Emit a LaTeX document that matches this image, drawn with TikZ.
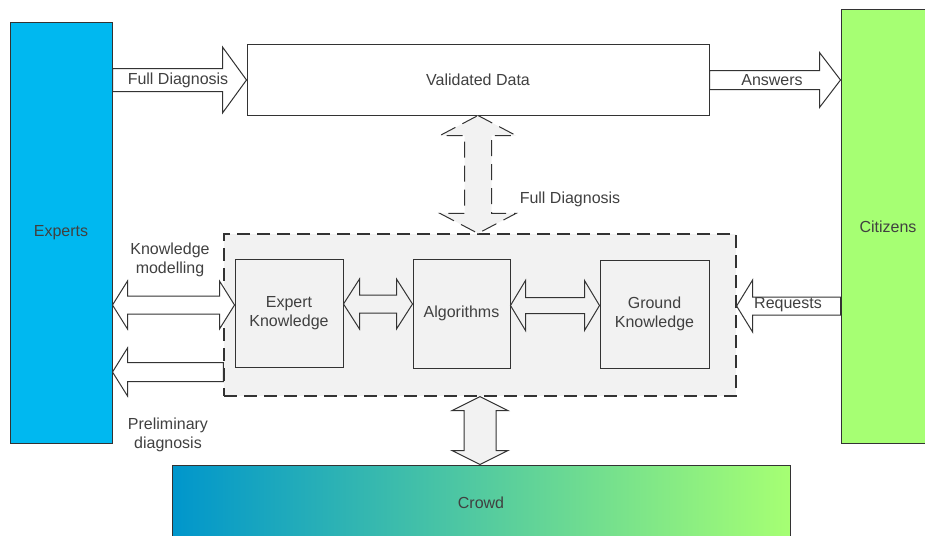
\documentclass[tikz,border=0pt]{standalone}
\usepackage{fontspec}
\setmainfont{Liberation Sans}
\usetikzlibrary{calc}
\definecolor{expertblue}{HTML}{00B8F0}
\definecolor{citizengreen}{HTML}{A6FF73}
\definecolor{crowdblue}{HTML}{0096CC}
\definecolor{panelgray}{HTML}{F2F2F2}
\definecolor{textgray}{HTML}{404040}
\definecolor{linegray}{HTML}{333333}

\tikzset{
  box/.style={draw=linegray, line width=1pt, inner sep=0pt, align=center,
    text=textgray, font=\fontsize{16}{19}\selectfont},
  lbl/.style={text=textgray, align=center, inner sep=0pt,
    font=\fontsize{16}{19}\selectfont},
  blk/.style={draw=linegray, line width=1pt, line join=miter},
  single block/.style n args={3}{to path={let \p1=(\tikztostart), \p2=(\tikztotarget),
    \n1={atan2(\y2-\y1,\x2-\x1)} in
    ($(\p1)+(\n1+90:#1)$) -- ($(\p2)+(\n1:-#3)+(\n1+90:#1)$)
    -- ($(\p2)+(\n1:-#3)+(\n1+90:#2)$) -- (\p2)
    -- ($(\p2)+(\n1:-#3)+(\n1-90:#2)$) -- ($(\p2)+(\n1:-#3)+(\n1-90:#1)$)
    -- ($(\p1)+(\n1-90:#1)$) -- cycle}},
  double block/.style n args={3}{to path={let \p1=(\tikztostart), \p2=(\tikztotarget),
    \n1={atan2(\y2-\y1,\x2-\x1)} in
    (\p1) -- ($(\p1)+(\n1:#3)+(\n1+90:#2)$) -- ($(\p1)+(\n1:#3)+(\n1+90:#1)$)
    -- ($(\p2)+(\n1:-#3)+(\n1+90:#1)$) -- ($(\p2)+(\n1:-#3)+(\n1+90:#2)$) -- (\p2)
    -- ($(\p2)+(\n1:-#3)+(\n1-90:#2)$) -- ($(\p2)+(\n1:-#3)+(\n1-90:#1)$)
    -- ($(\p1)+(\n1:#3)+(\n1-90:#1)$) -- ($(\p1)+(\n1:#3)+(\n1-90:#2)$) -- cycle}},
}

\begin{document}
\begin{tikzpicture}[x=1pt, y=-1pt]
      \useasboundingbox (0,0) rectangle (925,535);
      % outer actors
      \node[box, fill=expertblue, minimum width=102, minimum height=420] (experts) at (61,233) {Experts};
      \node[box, fill=citizengreen, minimum width=94, minimum height=433] (citizens) at (888,226.5) {Citizens};
      \node[box, fill=white, minimum width=462, minimum height=70] (valid) at (478,80) {Validated Data};
      \node[box, left color=crowdblue, right color=citizengreen, minimum width=618, minimum height=75] (crowd) at (481,502.5) {Crowd};
      % core panel
      \node[draw=linegray, fill=panelgray, line width=1.2pt, dash pattern=on 13pt off 7pt,
            minimum width=512, minimum height=162, inner sep=0pt] (core) at (480,315) {};
      \node[box, fill=panelgray, minimum width=108, minimum height=108] (ek) at (289,313) {Expert\\Knowledge};
      \node[box, fill=panelgray, minimum width=97, minimum height=109] (alg) at (461.5,313.5) {Algorithms};
      \node[box, fill=panelgray, minimum width=109, minimum height=108] (gk) at (654.5,314) {Ground\\Knowledge};
      \coordinate (km) at ([yshift=8pt]ek.west);
      \coordinate (pd) at ([yshift=-57pt]core.west);
      \coordinate (ea) at ([yshift=9pt]ek.east);
      \coordinate (ag) at ([yshift=8pt]alg.east);
      \coordinate (rq) at ([yshift=9pt]core.east);
      % horizontal arrows
      \draw[blk, fill=white, single block={11.5pt}{33pt}{24pt}] (experts.east |- valid.west) to (valid.west);
      \draw[blk, fill=white, single block={9.5pt}{27.5pt}{21pt}] (valid.east) to (citizens.west |- valid.east);
      \draw[blk, fill=white, double block={9pt}{24pt}{15pt}] (experts.east |- km) to (km);
      \draw[blk, fill=white, single block={9.5pt}{24pt}{15pt}] (core.west |- pd) to (experts.east |- pd);
      \draw[blk, fill=panelgray, double block={9pt}{25pt}{16pt}] (ea) to (alg.west |- ea);
      \draw[blk, fill=panelgray, double block={8pt}{25pt}{15pt}] (ag) to (gk.west |- ag);
      \draw[blk, fill=white, single block={9pt}{26pt}{16pt}] (citizens.west |- rq) to (rq);
      % vertical arrows
      \draw[blk, fill=panelgray, dash pattern=on 16pt off 8pt, double block={13.5pt}{38pt}{20pt}] (valid.south) to (valid.south |- core.north);
      \draw[blk, fill=panelgray, double block={16pt}{28pt}{14pt}] (core.south) to (core.south |- crowd.north);
      % labels
      \node[lbl] (fdl) at (178,80) {Full Diagnosis};
      \node[lbl] (ansl) at (772,80) {Answers};
      \node[lbl] (fdv) at (570,199) {Full Diagnosis};
      \node[lbl] (kml) at (170,260) {Knowledge\\modelling};
      \node[lbl] (pdl) at (168,435) {Preliminary\\diagnosis};
      \node[lbl] (rql) at (788,305) {Requests};
\end{tikzpicture}
\end{document}
